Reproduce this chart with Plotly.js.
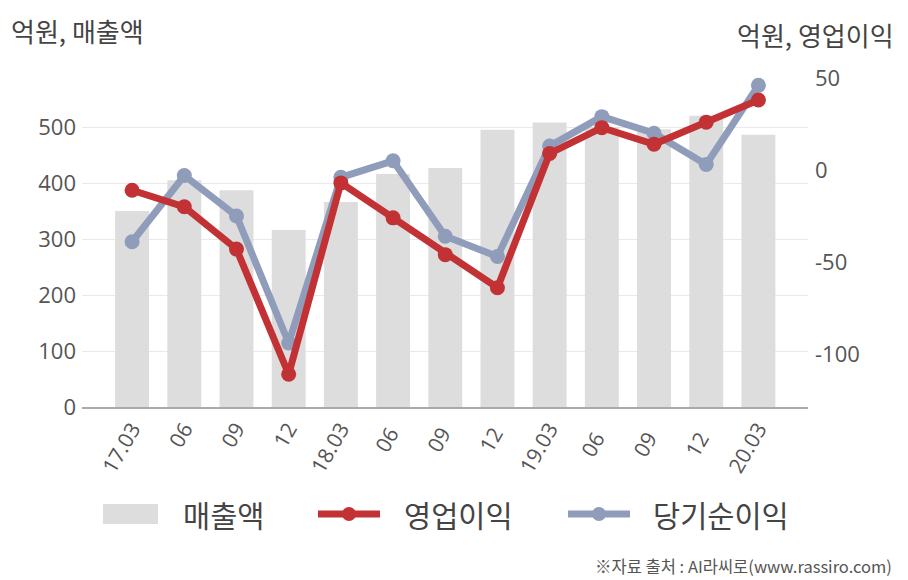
<!DOCTYPE html>
<html>
<head>
<meta charset="utf-8">
<script src="https://cdn.plot.ly/plotly-3.0.1.min.js"></script>
<style>
  html, body { margin: 0; padding: 0; background: #ffffff; }
  #chart { width: 908px; height: 580px; }
</style>
</head>
<body>
<div id="chart"></div>
<script>
// ---- data ----
const categories = ["17.03", "06", "09", "12", "18.03", "06 ", "09 ", "12 ", "19.03", "06  ", "09  ", "12  ", "20.03"];
const revenue = [350, 405, 387, 316, 366, 416, 427, 495, 508, 500, 496, 520, 486];        // 매출액
const operatingProfit = [-11, -20, -43, -111, -7, -26, -46, -64, 9, 23, 14, 26, 38];     // 영업이익
const netProfit = [-39, -3, -25, -94, -4, 5, -36, -47, 13, 29, 20, 3, 46];               // 당기순이익
const leftTicks = [0, 100, 200, 300, 400, 500];
const rightTicks = [-100, -50, 0, 50];

const FONT = "'Noto Sans CJK KR', 'Noto Sans', sans-serif";
const NUMFONT = "'Open Sans', 'Noto Sans CJK KR', sans-serif";
const RED = "#c23234";
const BLUE = "#8f9cba";
const GREY = "#dddddd";

// plot area in pixels
const PL = 82, PR = 808, PT = 71, PB = 407;
const px = x => (x - PL) / (PR - PL);
const py = y => (PB - y) / (PB - PT);

const traces = [
  {
    type: "bar", x: categories, y: revenue, name: "매출액",
    marker: { color: GREY }, width: 0.65, yaxis: "y", showlegend: false, hoverinfo: "skip"
  },
  {
    type: "scatter", mode: "lines+markers", x: categories, y: netProfit, name: "당기순이익",
    line: { color: BLUE, width: 7 }, marker: { color: BLUE, size: 15 }, yaxis: "y2", showlegend: false
  },
  {
    type: "scatter", mode: "lines+markers", x: categories, y: operatingProfit, name: "영업이익",
    line: { color: RED, width: 7 }, marker: { color: RED, size: 15 }, yaxis: "y2", showlegend: false
  }
];

const legendItems = [
  { kind: "bar", color: GREY, x0: 103, x1: 158, tx: 181, text: "매출액" },
  { kind: "line", color: RED, x0: 318, x1: 380, tx: 402, text: "영업이익" },
  { kind: "line", color: BLUE, x0: 568, x1: 630, tx: 651, text: "당기순이익" }
];
const LY = 514;
const shapes = [];
const annotations = [];
legendItems.forEach(it => {
  if (it.kind === "bar") {
    shapes.push({ type: "rect", xref: "paper", yref: "paper", x0: px(it.x0), x1: px(it.x1), y0: py(LY + 10), y1: py(LY - 10),
      fillcolor: it.color, line: { width: 0 } });
  } else {
    shapes.push({ type: "line", xref: "paper", yref: "paper", x0: px(it.x0), x1: px(it.x1), y0: py(LY), y1: py(LY),
      line: { color: it.color, width: 7 } });
    const cx = (it.x0 + it.x1) / 2;
    shapes.push({ type: "circle", xref: "paper", yref: "paper", x0: px(cx - 7), x1: px(cx + 7), y0: py(LY + 7), y1: py(LY - 7),
      fillcolor: it.color, line: { width: 0 } });
  }
  annotations.push({ xref: "paper", yref: "paper", x: px(it.tx), y: py(LY), xanchor: "left", yanchor: "middle",
    text: it.text, showarrow: false, font: { family: FONT, size: 29.5, color: "#444" } });
});
annotations.push({ xref: "paper", yref: "paper", x: px(9), y: py(31), xanchor: "left", yanchor: "middle",
  text: "억원, 매출액", showarrow: false, font: { family: FONT, size: 26, color: "#444" } });
annotations.push({ xref: "paper", yref: "paper", x: px(896), y: py(35), xanchor: "right", yanchor: "middle",
  text: "억원, 영업이익", showarrow: false, font: { family: FONT, size: 26, color: "#444" } });
annotations.push({ xref: "paper", yref: "paper", x: px(894), y: py(566), xanchor: "right", yanchor: "middle",
  text: "※자료 출처 : AI라씨로(www.rassiro.com)", showarrow: false, font: { family: FONT, size: 16.5, color: "#555" } });

const layout = {
  width: 908, height: 580,
  margin: { l: PL, r: 908 - PR, t: PT, b: 580 - PB, pad: 0 },
  paper_bgcolor: "#ffffff", plot_bgcolor: "#ffffff",
  font: { family: FONT, color: "#444" },
  showlegend: false,
  xaxis: {
    type: "category", range: [-0.96, 12.95], tickangle: -60,
    tickfont: { family: NUMFONT, size: 21, color: "#555" },
    showline: true, linecolor: "#aaaaaa", linewidth: 1.5, showgrid: false, ticks: "", fixedrange: true
  },
  yaxis: {
    range: [0, 600], tickvals: leftTicks, ticktext: leftTicks.map(String),
    tickfont: { family: NUMFONT, size: 22, color: "#555" },
    showgrid: true, gridcolor: "#e9e9e9", gridwidth: 1, zeroline: false, showline: false, ticks: "",
    ticklabelstandoff: 5
  },
  yaxis2: {
    overlaying: "y", side: "right", range: [-128.8, 53.8], tickvals: rightTicks, ticktext: rightTicks.map(String),
    tickfont: { family: NUMFONT, size: 22, color: "#555" },
    showgrid: false, zeroline: false, showline: false, ticks: "", ticklabelstandoff: 6
  },
  shapes: shapes,
  annotations: annotations
};

Plotly.newPlot("chart", traces, layout, { displayModeBar: false, staticPlot: true });
</script>
</body>
</html>
